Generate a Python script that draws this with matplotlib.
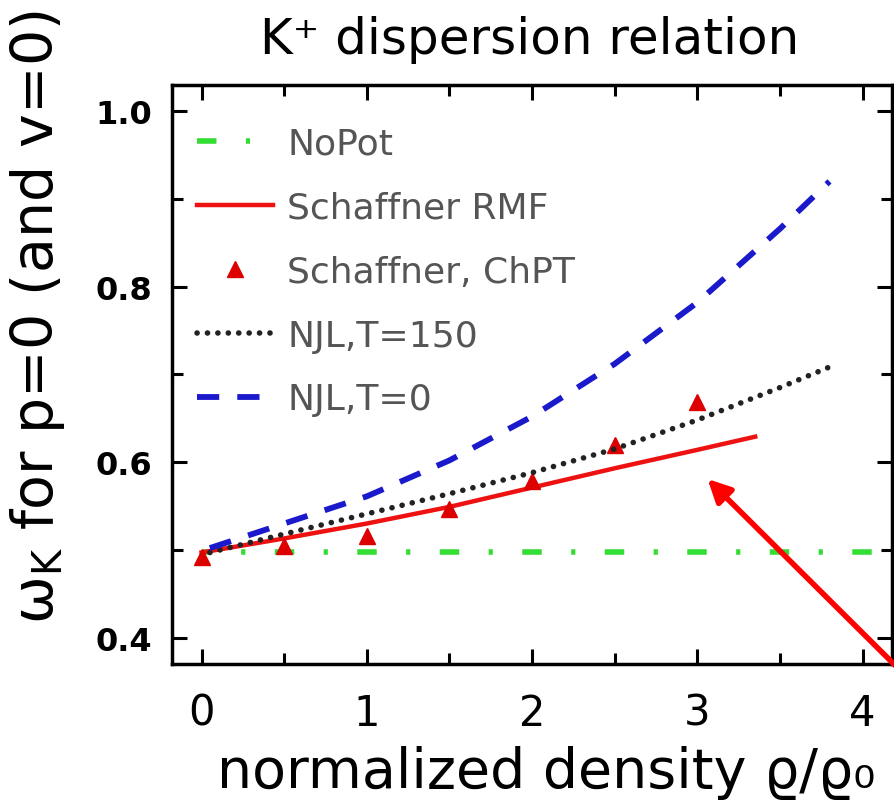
import matplotlib
matplotlib.use("Agg")
import matplotlib.pyplot as plt
from matplotlib.lines import Line2D
from matplotlib.ticker import MultipleLocator

plt.rcParams['font.family'] = ['DejaVu Sans']
plt.rcParams['lines.scale_dashes'] = False

# --- data: kaon energy at rest vs. density ---
nopot_x = [0.0, 4.1]
nopot_y = [0.497, 0.497]

rmf_x = [0.0, 0.5, 1.0, 1.5, 2.0, 2.5, 3.0, 3.35]
rmf_y = [0.497, 0.513, 0.530, 0.549, 0.571, 0.593, 0.614, 0.629]

chpt_x = [0.0, 0.5, 1.0, 1.5, 2.0, 2.5, 3.0]
chpt_y = [0.492, 0.504, 0.516, 0.547, 0.579, 0.619, 0.669]

njl150_x = [0.05, 0.5, 1.0, 1.5, 2.0, 2.5, 3.0, 3.5, 3.82]
njl150_y = [0.497, 0.518, 0.541, 0.564, 0.588, 0.615, 0.648, 0.685, 0.710]

njl0_x = [0.05, 0.5, 1.0, 1.5, 2.0, 2.5, 3.0, 3.5, 3.8]
njl0_y = [0.502, 0.530, 0.561, 0.602, 0.652, 0.712, 0.782, 0.866, 0.920]

green = '#33dd33'
dashdot = (14, 21.2, 3, 21.2)

fig = plt.figure(figsize=(8.95, 8.03), dpi=100)
ax = fig.add_axes([0.192, 0.172, 0.805, 0.721])

ax.plot(nopot_x, nopot_y, color=green, lw=4, linestyle=(7, dashdot))
l_rmf, = ax.plot(rmf_x, rmf_y, color='#ee1111', lw=3.2)
l_chpt, = ax.plot(chpt_x, chpt_y, '^', color='#dd0000', ms=12)
l_150, = ax.plot(njl150_x, njl150_y, color='#222222', lw=4, dashes=(0.1, 7.4),
                 dash_capstyle='round')
l_0, = ax.plot(njl0_x, njl0_y, color='#1a1acc', lw=4.2, dashes=(16, 13))

ax.set_xlim(-0.18, 4.18)
ax.set_ylim(0.37, 1.03)
ax.xaxis.set_major_locator(MultipleLocator(1))
ax.xaxis.set_minor_locator(MultipleLocator(0.5))
ax.yaxis.set_major_locator(MultipleLocator(0.2))
ax.yaxis.set_minor_locator(MultipleLocator(0.1))
ax.tick_params(which='both', direction='in', top=True, right=True, width=2.2)
ax.tick_params(which='major', length=11)
ax.tick_params(which='minor', length=8)
ax.tick_params(axis='x', labelsize=30, pad=20)
ax.tick_params(axis='y', labelsize=23, pad=14)
for lab in ax.get_yticklabels():
    lab.set_fontweight('bold')
for sp in ax.spines.values():
    sp.set_linewidth(2.5)

ax.set_xlabel('normalized density ϱ/ϱ₀', fontsize=40)
ax.xaxis.set_label_coords(0.52, -0.14)
ax.set_ylabel('ω$_\\mathregular{K}$ for p=0 (and v=0)', fontsize=41)
ax.yaxis.set_label_coords(-0.145, 0.6)
fig.text(0.592, 0.95, 'K⁺ dispersion relation', fontsize=36, ha='center', va='center')

# legend sample for NoPot starts on a full dash
nopot_key = Line2D([], [], color=green, lw=4, linestyle=(0, dashdot))
ax.legend([nopot_key, l_rmf, l_chpt, l_150, l_0],
          ['NoPot', 'Schaffner RMF', 'Schaffner, ChPT', 'NJL,T=150', 'NJL,T=0'],
          loc='upper left', bbox_to_anchor=(0.035, 0.928), frameon=False,
          fontsize=26, labelcolor='#555555',
          handlelength=2.1, handletextpad=0.4, labelspacing=0.83,
          borderaxespad=0, borderpad=0)

ax.annotate('', xy=(3.05, 0.583), xycoords='data',
            xytext=(1.01, -0.01), textcoords='axes fraction',
            arrowprops=dict(arrowstyle='-|>', color='red', lw=4, mutation_scale=34),
            annotation_clip=False)

fig.savefig('out.png', dpi=100)
